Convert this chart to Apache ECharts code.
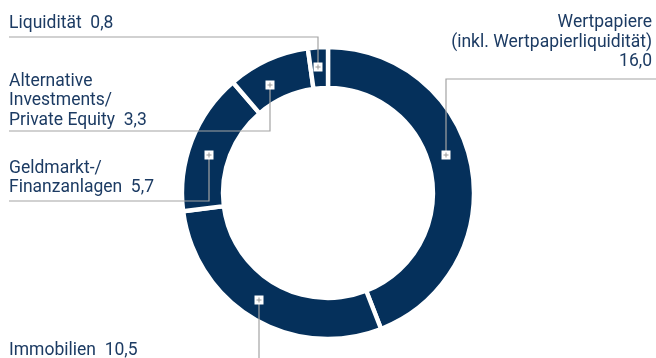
<!DOCTYPE html>
<html><head><meta charset="utf-8">
<script src="https://cdn.jsdelivr.net/npm/echarts@6/dist/echarts.min.js"></script>
<style>html,body{margin:0;padding:0;background:#fff}#c{width:656px;height:358px}</style>
</head><body><div id="c"></div>
<script>
var categories = ['Wertpapiere\n(inkl. Wertpapierliquidität)', 'Immobilien', 'Geldmarkt-/\nFinanzanlagen', 'Alternative\nInvestments/\nPrivate Equity', 'Liquidität'];
var values = [16.0, 10.5, 5.7, 3.3, 0.8];
var valueLabels = ['16,0', '10,5', '5,7', '3,3', '0,8'];

var ringColor = '#05305b';
var textColor = '#1c3b63';
var lineColor = '#a3a3a3';
var font = '17.5px Roboto';

// annotation layout: marker position, leader polyline, text box
var annot = [
  {m:[446,155], line:[[446,155],[446,79],[656,79]], text: categories[0] + '\n' + valueLabels[0], x:652, y:13, align:'right'},
  {m:[259,300], line:[[259,300],[259,358]], text: categories[1] + '  ' + valueLabels[1], x:9, y:340.5, align:'left'},
  {m:[209,155], line:[[209,155],[209,201],[9,201]], text: categories[2] + '  ' + valueLabels[2], x:9, y:158.5, align:'left'},
  {m:[270,85], line:[[270,85],[270,131],[9,131]], text: categories[3] + '  ' + valueLabels[3], x:9, y:71.5, align:'left'},
  {m:[318,67], line:[[318,67],[318,37],[9,37]], text: categories[4] + '  ' + valueLabels[4], x:9, y:13.5, align:'left'}
];

var graphic = [];
annot.forEach(function(a){
  graphic.push({type:'polyline', shape:{points:a.line}, style:{stroke:lineColor, lineWidth:1.2, fill:null}, z:10});
});
annot.forEach(function(a){
  graphic.push({type:'rect', shape:{x:a.m[0]-4.5, y:a.m[1]-4.5, width:9, height:9}, style:{fill:'#fff', stroke:null}, z:11});
  graphic.push({type:'line', shape:{x1:a.m[0]-2.5, y1:a.m[1], x2:a.m[0]+2.5, y2:a.m[1]}, style:{stroke:'#999', lineWidth:1}, z:12});
  graphic.push({type:'line', shape:{x1:a.m[0], y1:a.m[1]-2.5, x2:a.m[0], y2:a.m[1]+2.5}, style:{stroke:'#999', lineWidth:1}, z:12});
  graphic.push({type:'text', x:a.x, y:a.y, style:{text:a.text, fill:textColor, font:font, textAlign:a.align, textVerticalAlign:'top', lineHeight:19.5}, z:12});
});

var chart = echarts.init(document.getElementById('c'), null, {renderer:'canvas'});
chart.setOption({
  animation:false,
  series:[{
    type:'pie',
    center:[328,193],
    radius:[105,146],
    startAngle:90,
    clockwise:true,
    silent:true,
    label:{show:false},
    labelLine:{show:false},
    itemStyle:{color:ringColor, borderColor:'#fff', borderWidth:4.4},
    data: categories.map(function(c,i){return {name:c, value:values[i]};})
  }],
  graphic: graphic
});
</script></body></html>
